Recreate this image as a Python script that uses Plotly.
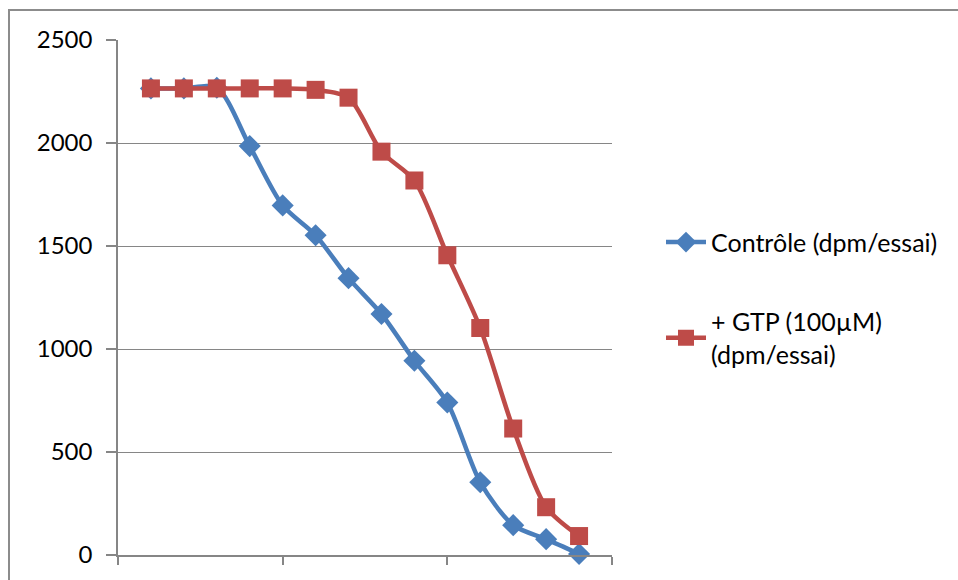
import plotly.graph_objects as go

x_index = list(range(1, 15))
controle = [2265, 2265, 2268, 1985, 1697, 1552, 1344, 1170, 943, 740, 353, 145, 77, 5]
gtp = [2265, 2265, 2265, 2265, 2265, 2258, 2220, 1958, 1818, 1455, 1102, 614, 232, 92]
names = ["Contrôle (dpm/essai)", "+ GTP (100µM)<br>(dpm/essai)"]
y_ticks = [0, 500, 1000, 1500, 2000, 2500]

W, H = 958, 580
L, R, T, B = 118, 958 - 612, 40, 580 - 557
pw, ph = W - L - R, H - T - B

def px(xp):
    return (xp - L) / pw

def py(yp):
    return (H - B - yp) / ph

fig = go.Figure()
fig.add_trace(go.Scatter(
    x=x_index, y=controle, name=names[0], mode="lines+markers",
    line=dict(color="#4a7ebb", width=4.5, shape="spline", smoothing=0.8),
    marker=dict(symbol="diamond", size=17, color="#4a7ebb"),
    cliponaxis=False, legendgroup="a"))
fig.add_trace(go.Scatter(
    x=x_index, y=gtp, name=names[1], mode="lines+markers",
    line=dict(color="#be4b48", width=4.5, shape="spline", smoothing=0.8),
    marker=dict(symbol="square", size=18, color="#be4b48"),
    cliponaxis=False, legendgroup="b"))

fig.add_shape(type="rect", xref="paper", yref="paper",
              x0=px(9), x1=px(990), y0=py(600), y1=py(10),
              line=dict(color="#8c8c8c", width=2), fillcolor="rgba(0,0,0,0)", layer="below")

fig.update_layout(
    width=W, height=H,
    margin=dict(l=L, r=R, t=T, b=B, pad=0),
    paper_bgcolor="white", plot_bgcolor="white",
    font=dict(family="Lato, Carlito, Calibri, sans-serif", size=24, color="#000000"),
    showlegend=True,
    legend=dict(x=px(661), y=py(220), xanchor="left", yanchor="top",
                bgcolor="rgba(0,0,0,0)", font=dict(size=25),
                traceorder="grouped", tracegroupgap=44, itemwidth=40),
    xaxis=dict(range=[0, 15], tickvals=[0, 5, 10, 15], showticklabels=False,
               ticks="outside", ticklen=8, tickcolor="#868686", tickwidth=1.5,
               showline=True, linecolor="#868686", linewidth=1.5,
               showgrid=False, zeroline=False, fixedrange=True),
    yaxis=dict(range=[0, 2500], tickvals=y_ticks, ticktext=[str(v) for v in y_ticks],
               ticks="outside", ticklen=10, tickcolor="#868686", tickwidth=1.5,
               showline=True, linecolor="#868686", linewidth=1.5,
               showgrid=True, gridcolor="#868686", gridwidth=1.2,
               zeroline=False, ticklabelstandoff=9, fixedrange=True),
)

fig.write_html("out.html")
